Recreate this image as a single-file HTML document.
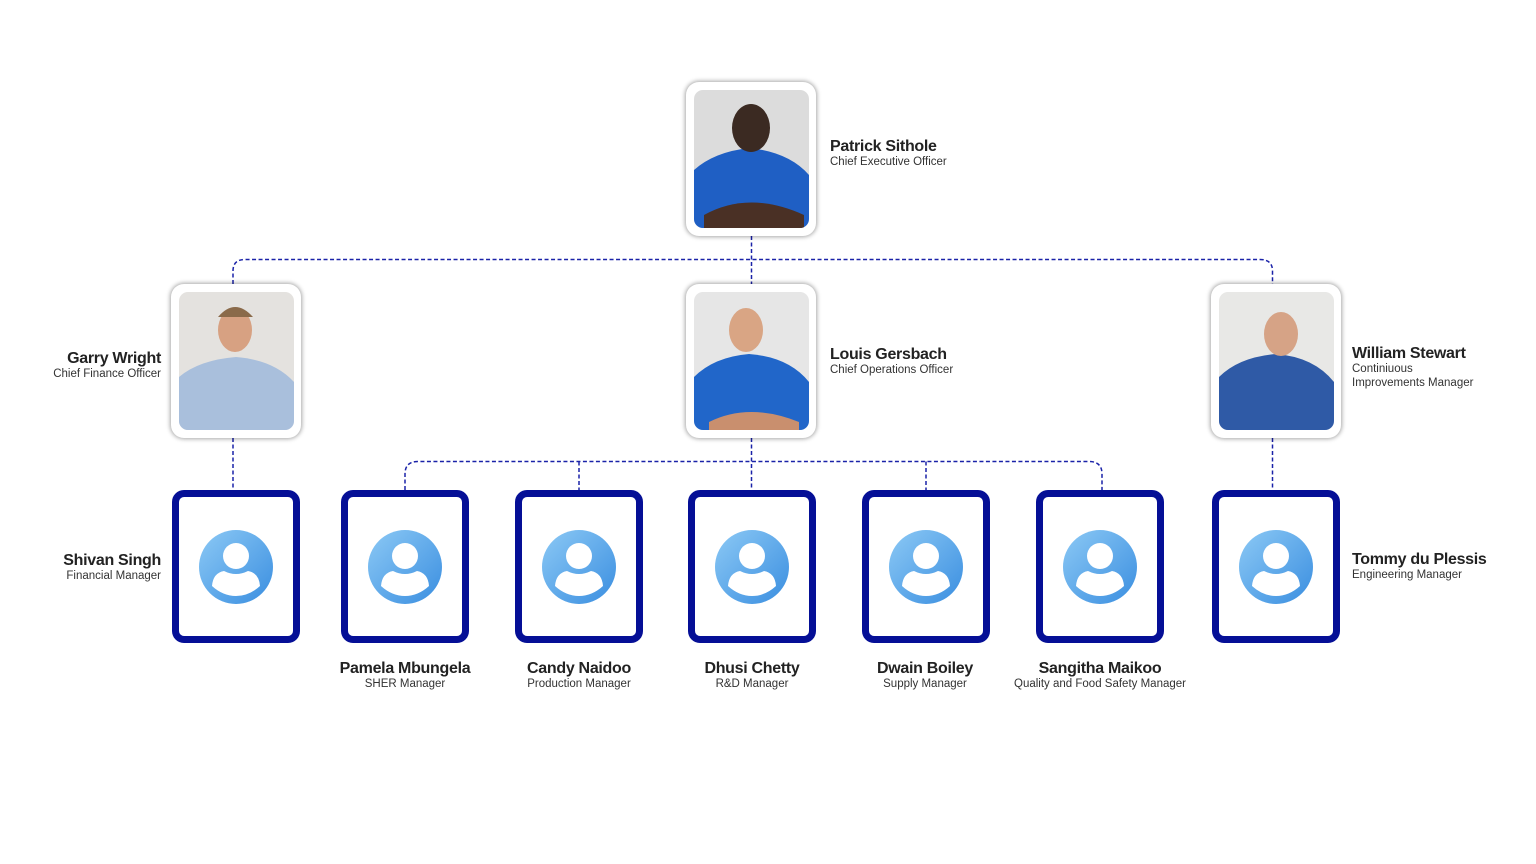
<!DOCTYPE html>
<html><head><meta charset="utf-8"><style>
body{margin:0;width:1536px;height:864px;background:#fff;position:relative;overflow:hidden;font-family:"Liberation Sans",sans-serif;color:#1a1a1a}
.card{position:absolute;width:130px;height:154px;background:#fff;border-radius:13px;box-shadow:0 0 4px 1px rgba(0,0,0,.35)}
.card svg{position:absolute;left:8px;top:8px;border-radius:9px}
.box{position:absolute;width:114px;height:139px;border:7px solid #050f96;border-radius:12px;background:#fff}
.box svg{position:absolute;left:20px;top:33px}
.t{position:absolute;white-space:nowrap;line-height:1.15}
.t b{display:block;font-size:16px;font-weight:bold;letter-spacing:-0.3px;color:#222}
.t span{display:block;font-size:11.5px;color:#333}
.r{text-align:right}.c{text-align:center}
</style></head><body>
<svg width="1536" height="864" style="position:absolute;left:0;top:0" fill="none" stroke="#1a22a8" stroke-width="1.5" stroke-dasharray="4,2.5">
<path d="M751.5 236V284"/>
<path d="M233 284V271Q233 259.5 245 259.5H1260Q1272.5 259.5 1272.5 271V284"/>
<path d="M233 438V490"/><path d="M1272.5 438V490"/>
<path d="M751.5 438V490"/>
<path d="M405 490V474Q405 461.5 418 461.5H1089Q1102 461.5 1102 474V490"/>
<path d="M579 461.5V490"/><path d="M926 461.5V490"/>
</svg>

<div class="card" style="left:686px;top:82px"><svg width="115" height="138"><use href="#ph1"/></svg></div>
<div class="card" style="left:171px;top:284px"><svg width="115" height="138"><use href="#ph2"/></svg></div>
<div class="card" style="left:686px;top:284px"><svg width="115" height="138"><use href="#ph1b"/></svg></div>
<div class="card" style="left:1211px;top:284px"><svg width="115" height="138"><use href="#ph3"/></svg></div>

<svg width="0" height="0" style="position:absolute">
<defs>
<linearGradient id="av" x1="0" y1="0" x2="1" y2="1"><stop offset="0" stop-color="#8cc9f5"/><stop offset="1" stop-color="#3a8ee0"/></linearGradient>
<g id="ph1"><rect width="115" height="138" fill="#dcdcdc"/><path d="M0 138V80Q20 62 55 58Q95 62 115 85V138Z" fill="#1f5fc4"/><ellipse cx="57" cy="38" rx="19" ry="24" fill="#3b2a22"/><path d="M10 125Q55 100 110 125V138H10Z" fill="#4a3025"/></g>
<g id="ph1b"><rect width="115" height="138" fill="#e6e6e6"/><path d="M0 138V85Q20 65 55 62Q95 65 115 90V138Z" fill="#2166c9"/><ellipse cx="52" cy="38" rx="17" ry="22" fill="#d9a584"/><path d="M15 130Q55 110 105 130V138H15Z" fill="#c98f6e"/></g>
<g id="ph2"><rect width="115" height="138" fill="#e4e2df"/><path d="M0 138V85Q20 68 57 65Q95 68 115 90V138Z" fill="#a9bfdc"/><ellipse cx="56" cy="38" rx="17" ry="22" fill="#d7a182"/><path d="M39 25Q56 5 74 25Z" fill="#8a6a4a"/></g>
<g id="ph3"><rect width="115" height="138" fill="#e8e8e6"/><path d="M0 138V85Q20 65 57 62Q95 65 115 90V138Z" fill="#2f5aa6"/><ellipse cx="62" cy="42" rx="17" ry="22" fill="#d6a386"/></g>
<g id="avatar"><circle cx="37" cy="37" r="37" fill="url(#av)"/><circle cx="37" cy="26" r="13" fill="#fff"/><path d="M13 56Q14 43 25 41Q37 47 49 41Q60 43 61 56Q50 66 37 66Q24 66 13 56Z" fill="#fff"/></g>
</defs></svg>

<div class="box" style="left:172px;top:490px"><svg width="74" height="74"><use href="#avatar"/></svg></div>
<div class="box" style="left:341px;top:490px"><svg width="74" height="74"><use href="#avatar"/></svg></div>
<div class="box" style="left:515px;top:490px"><svg width="74" height="74"><use href="#avatar"/></svg></div>
<div class="box" style="left:688px;top:490px"><svg width="74" height="74"><use href="#avatar"/></svg></div>
<div class="box" style="left:862px;top:490px"><svg width="74" height="74"><use href="#avatar"/></svg></div>
<div class="box" style="left:1036px;top:490px"><svg width="74" height="74"><use href="#avatar"/></svg></div>
<div class="box" style="left:1212px;top:490px"><svg width="74" height="74"><use href="#avatar"/></svg></div>

<div class="t" style="left:830px;top:138px"><b>Patrick Sithole</b><span>Chief Executive Officer</span></div>
<div class="t r" style="right:1375px;top:350px"><b>Garry Wright</b><span>Chief Finance Officer</span></div>
<div class="t" style="left:830px;top:346px"><b>Louis Gersbach</b><span>Chief Operations Officer</span></div>
<div class="t" style="left:1352px;top:345px"><b>William Stewart</b><span>Continiuous<br>Improvements Manager</span></div>
<div class="t r" style="right:1375px;top:552px"><b>Shivan Singh</b><span>Financial Manager</span></div>
<div class="t" style="left:1352px;top:551px"><b>Tommy du Plessis</b><span>Engineering Manager</span></div>
<div class="t c" style="left:305px;width:200px;top:660px"><b>Pamela Mbungela</b><span>SHER Manager</span></div>
<div class="t c" style="left:479px;width:200px;top:660px"><b>Candy Naidoo</b><span>Production Manager</span></div>
<div class="t c" style="left:652px;width:200px;top:660px"><b>Dhusi Chetty</b><span>R&amp;D Manager</span></div>
<div class="t c" style="left:825px;width:200px;top:660px"><b>Dwain Boiley</b><span>Supply Manager</span></div>
<div class="t c" style="left:990px;width:220px;top:660px"><b>Sangitha Maikoo</b><span>Quality and Food Safety Manager</span></div>
</body></html>
